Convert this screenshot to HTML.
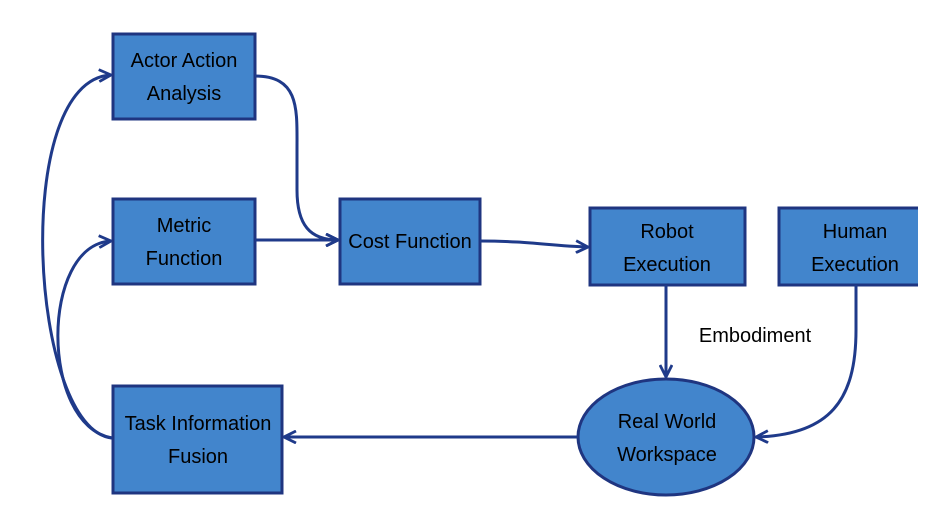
<!DOCTYPE html>
<html><head><style>
html,body{margin:0;padding:0;background:#fff;}
svg{display:block;}
text{font-family:"Liberation Sans",sans-serif;font-size:20px;fill:#000;}
</style></head><body>
<svg width="941" height="522" viewBox="0 0 941 522" xmlns="http://www.w3.org/2000/svg">
<defs>
<marker id="a" viewBox="0 0 14 14" refX="13" refY="7" markerWidth="14" markerHeight="14" markerUnits="userSpaceOnUse" orient="auto">
<path d="M1,1 L13,7 L1,13" fill="none" stroke="#1f3a8a" stroke-width="2.8"/>
</marker>
</defs>
<g fill="#4285cc" stroke="#1f3580" stroke-width="3">
<rect x="113" y="34" width="142" height="85"/>
<rect x="113" y="199" width="142" height="85"/>
<rect x="340" y="199" width="140" height="85"/>
<rect x="590" y="208" width="155" height="77"/>
<rect x="113" y="386" width="169" height="107"/>
<ellipse cx="666" cy="437" rx="88" ry="58"/>
</g>
<rect x="779" y="208" width="139" height="77" fill="#4285cc"/>
<path d="M918,208 L779,208 L779,285 L918,285" fill="none" stroke="#1f3580" stroke-width="3"/>
<g fill="none" stroke="#1f3a8a" stroke-width="3">
<path d="M255,76 C300,76 297,110 297,150 L297,190 C297,225 310,240 338,240" marker-end="url(#a)"/>
<path d="M255,240 L338,240" marker-end="url(#a)"/>
<path d="M480,241 C530,241 550,246 588,247" marker-end="url(#a)"/>
<path d="M666,285 L666,377" marker-end="url(#a)"/>
<path d="M856,285 L856,330 C856,400 830,435 756,437" marker-end="url(#a)"/>
<path d="M578,437 L284,437" marker-end="url(#a)"/>
<path d="M112,438 C30,430 10,80 111,75" marker-end="url(#a)"/>
<path d="M112,438 C40,425 40,245 111,241" marker-end="url(#a)"/>
</g>
<g text-anchor="middle">
<text x="184" y="67">Actor Action</text>
<text x="184" y="100">Analysis</text>
<text x="184" y="232">Metric</text>
<text x="184" y="265">Function</text>
<text x="410" y="248">Cost Function</text>
<text x="667" y="238">Robot</text>
<text x="667" y="271">Execution</text>
<text x="855" y="238">Human</text>
<text x="855" y="271">Execution</text>
<text x="198" y="430">Task Information</text>
<text x="198" y="463">Fusion</text>
<text x="667" y="428">Real World</text>
<text x="667" y="461">Workspace</text>
<text x="755" y="342">Embodiment</text>
</g>
</svg>
</body></html>
